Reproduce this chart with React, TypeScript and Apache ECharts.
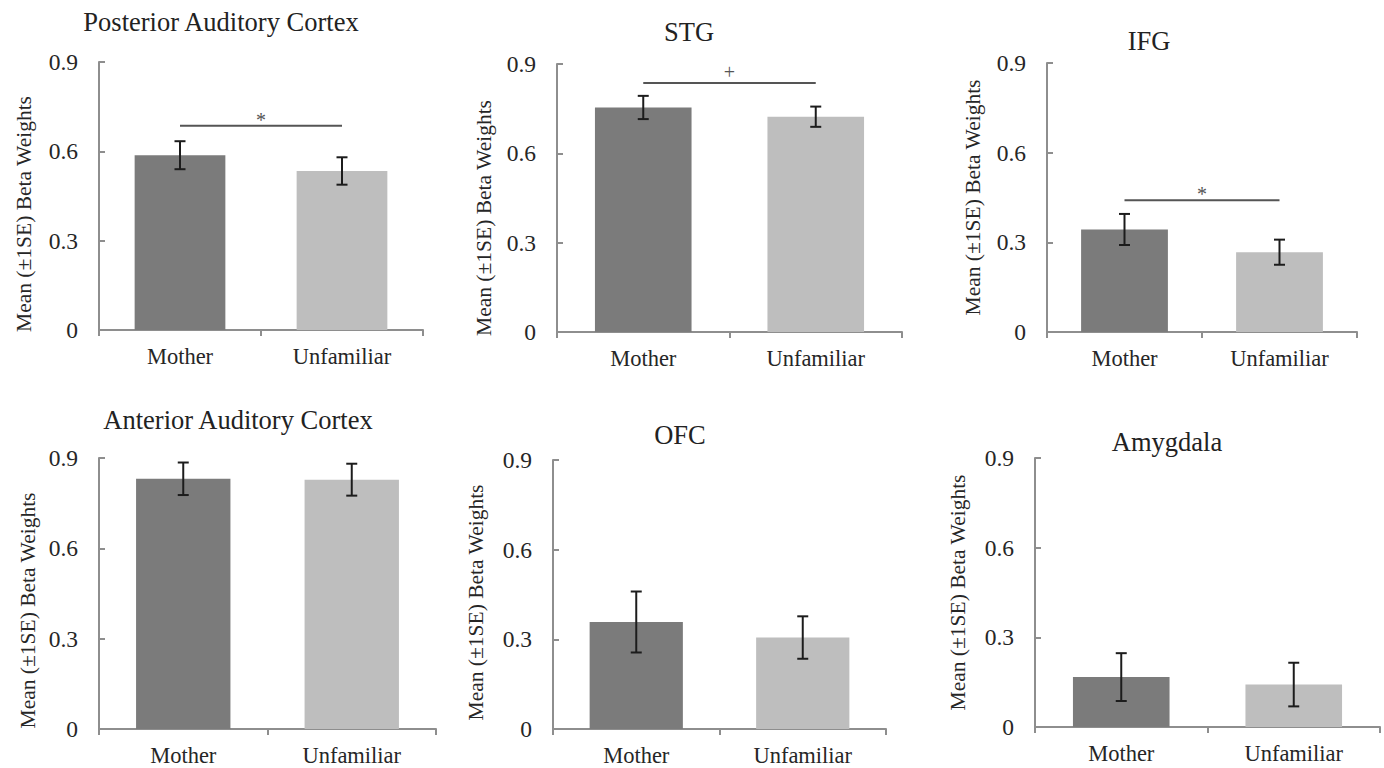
import React, { useEffect, useRef } from "react";
import * as echarts from "echarts";

// ---- data ----
const titles = [
  "Posterior Auditory Cortex",
  "STG",
  "IFG",
  "Anterior Auditory Cortex",
  "OFC",
  "Amygdala",
];
const categories = ["Mother", "Unfamiliar"];
const motherMean = [0.587, 0.754, 0.343, 0.831, 0.358, 0.167];
const unfamiliarMean = [0.534, 0.723, 0.267, 0.828, 0.306, 0.142];
const motherSE = [0.047, 0.039, 0.052, 0.054, 0.102, 0.08];
const unfamiliarSE = [0.046, 0.034, 0.042, 0.053, 0.071, 0.073];
const sigLevel = [0.686, 0.836, 0.441, null, null, null];
const sigMark = ["*", "+", "*", "", "", ""];
const yTicks = [0, 0.3, 0.6, 0.9];
const yName = "Mean (\u00b11SE) Beta Weights";

// ---- layout (positions only) ----
const grids = [
  { left: 99, top: 62, width: 324, height: 268 },
  { left: 557, top: 64, width: 345, height: 268 },
  { left: 1047, top: 63, width: 310, height: 269 },
  { left: 99, top: 458, width: 337, height: 271 },
  { left: 553, top: 460, width: 333, height: 269 },
  { left: 1035, top: 458, width: 345, height: 269 },
];
const titlePos = [
  { x: 221, y: 22 },
  { x: 689, y: 32 },
  { x: 1149, y: 41 },
  { x: 238, y: 420 },
  { x: 680, y: 435 },
  { x: 1167, y: 442 },
];
const nameGaps = [64, 62, 63, 60, 66, 66];
const nameShift = [36, 40, 0, 34, 16, 0];
const markOffset: Record<string, number> = { "*": 6, "+": 11 };

const FONT = "'Liberation Serif', 'Times New Roman', serif";
const AXIS_COLOR = "#8e8e8e";
const TEXT_COLOR = "#262626";
const BAR_COLORS = ["#7b7b7b", "#bebebe"];

export default function App() {
  const ref = useRef<HTMLDivElement>(null);

  useEffect(() => {
    if (!ref.current) return;
    const chart = echarts.init(ref.current, undefined, { renderer: "svg" });

    const title: any[] = [];
    const grid: any[] = [];
    const xAxis: any[] = [];
    const yAxis: any[] = [];
    const series: any[] = [];

    titles.forEach((t, i) => {
      title.push({
        text: t,
        left: titlePos[i].x,
        top: titlePos[i].y - 14,
        textAlign: "center",
        padding: 0,
        textStyle: {
          fontFamily: FONT,
          fontSize: 26.5,
          fontWeight: "normal",
          color: "#222",
        },
      });
      grid.push({ ...grids[i], containLabel: false });
      xAxis.push({
        type: "category",
        gridIndex: i,
        data: categories,
        axisLine: { lineStyle: { color: AXIS_COLOR, width: 2 } },
        axisTick: {
          show: true,
          length: 6,
          inside: false,
          alignWithLabel: false,
          lineStyle: { color: AXIS_COLOR, width: 2 },
        },
        axisLabel: {
          fontFamily: FONT,
          fontSize: 22.5,
          color: TEXT_COLOR,
          margin: 15,
        },
      });
      yAxis.push({
        type: "value",
        gridIndex: i,
        min: 0,
        max: 0.9,
        interval: 0.3,
        name: yName,
        nameLocation: "middle",
        nameGap: nameGaps[i],
        nameRotate: 90,
        nameTextStyle: {
          fontFamily: FONT,
          fontSize: 21.5,
          color: TEXT_COLOR,
          padding: [0, nameShift[i], 0, 0],
        },
        axisLine: { show: true, lineStyle: { color: AXIS_COLOR, width: 2 } },
        axisTick: {
          show: true,
          inside: true,
          length: 6,
          lineStyle: { color: AXIS_COLOR, width: 2 },
        },
        splitLine: { show: false },
        axisLabel: {
          fontFamily: FONT,
          fontSize: 23.5,
          color: TEXT_COLOR,
          margin: 21,
          formatter: (v: number) => {
            const hit = yTicks.find((t) => Math.abs(t - v) < 1e-6);
            if (hit === undefined) return "";
            return hit === 0 ? "0" : hit.toFixed(1);
          },
        },
      });
      series.push({
        type: "bar",
        xAxisIndex: i,
        yAxisIndex: i,
        barWidth: "56%",
        data: [
          { value: motherMean[i], itemStyle: { color: BAR_COLORS[0] } },
          { value: unfamiliarMean[i], itemStyle: { color: BAR_COLORS[1] } },
        ],
        silent: true,
      });
      series.push({
        type: "custom",
        xAxisIndex: i,
        yAxisIndex: i,
        silent: true,
        encode: { x: 0, y: [1, 2] },
        data: [
          [0, motherMean[i] - motherSE[i], motherMean[i] + motherSE[i]],
          [1, unfamiliarMean[i] - unfamiliarSE[i], unfamiliarMean[i] + unfamiliarSE[i]],
        ],
        renderItem: (params: any, api: any) => {
          const lo = api.coord([api.value(0), api.value(1)]);
          const hi = api.coord([api.value(0), api.value(2)]);
          const cap = 5.5;
          const style = { stroke: "#1c1c1c", lineWidth: 2 };
          return {
            type: "group",
            children: [
              { type: "line", shape: { x1: lo[0], y1: lo[1], x2: hi[0], y2: hi[1] }, style },
              { type: "line", shape: { x1: hi[0] - cap, y1: hi[1], x2: hi[0] + cap, y2: hi[1] }, style },
              { type: "line", shape: { x1: lo[0] - cap, y1: lo[1], x2: lo[0] + cap, y2: lo[1] }, style },
            ],
          };
        },
        z: 5,
      });
      const lvl = sigLevel[i];
      if (lvl !== null) {
        const mark = sigMark[i];
        series.push({
          type: "custom",
          xAxisIndex: i,
          yAxisIndex: i,
          silent: true,
          encode: { x: [0, 1], y: 2 },
          data: [[0, 1, lvl]],
          renderItem: (params: any, api: any) => {
            const p0 = api.coord([api.value(0), api.value(2)]);
            const p1 = api.coord([api.value(1), api.value(2)]);
            return {
              type: "group",
              children: [
                {
                  type: "line",
                  shape: { x1: p0[0], y1: p0[1], x2: p1[0], y2: p1[1] },
                  style: { stroke: "#555555", lineWidth: 2 },
                },
                {
                  type: "text",
                  style: {
                    text: mark,
                    x: (p0[0] + p1[0]) / 2,
                    y: p0[1] - (markOffset[mark] || 6),
                    align: "center",
                    verticalAlign: "middle",
                    fontFamily: FONT,
                    fontSize: 20,
                    fill: "#555555",
                  },
                },
              ],
            };
          },
          z: 6,
        });
      }
    });

    chart.setOption({
      animation: false,
      backgroundColor: "#ffffff",
      title,
      grid,
      xAxis,
      yAxis,
      series,
    });

    return () => chart.dispose();
  }, []);

  return (
    <div
      ref={ref}
      style={{ position: "absolute", left: 0, top: 0, width: 1384, height: 768, background: "#fff" }}
    />
  );
}
